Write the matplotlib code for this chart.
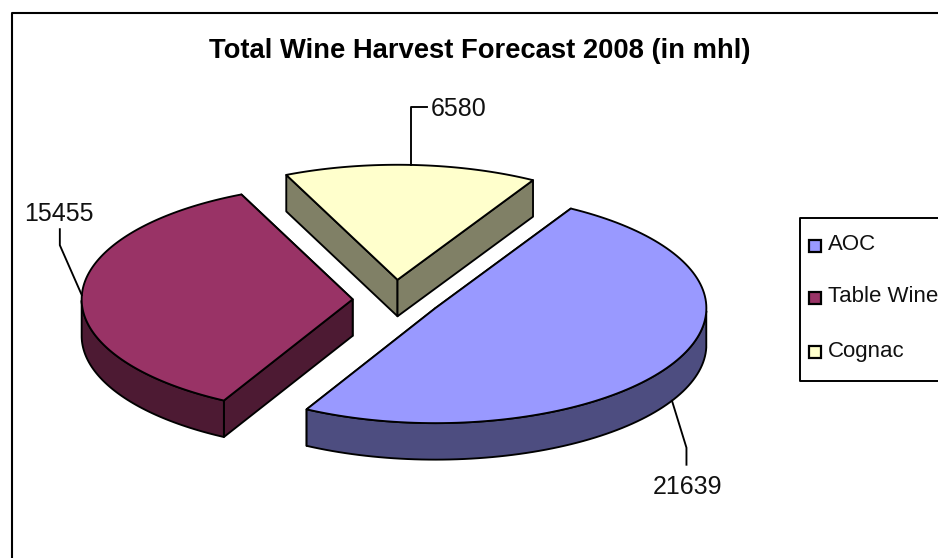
import numpy as np
import matplotlib
matplotlib.use("Agg")
import matplotlib.pyplot as plt
from matplotlib.patches import Polygon, Rectangle

plt.rcParams['font.family'] = ['Liberation Sans', 'DejaVu Sans']

title = "Total Wine Harvest Forecast 2008 (in mhl)"
categories = ["AOC", "Table Wine", "Cognac"]
values = [21639, 15455, 6580]
top_colors = ["#9999FF", "#993366", "#FFFFCC"]
side_colors = ["#4D4D80", "#4D1A33", "#808066"]

# pie layout, in pixels of the picture
cx, cy = 396.8, 299
rx, ry = 271, 115
depth = 36.5
explode = 0.163
start = 60
# small per slice shift, excel does not explode quite evenly
nudge_x = [0, 0, -1.5]
nudge_y = [0, 1, -0.5]

# leader elbow and end relative to where it leaves the slice, and label centre
leaders = [((14.5, 47), (14.5, 64)), ((-22, -50), (-22, -66)), ((0, -58), (16, -58))]
label_pos = [(688, 487.5), (59, 214), (458.5, 109.5)]
leader_depth = [True, False, False]

legend_y = [246, 298, 352]

line_w = 1.35

fig = plt.figure(figsize=(9.38, 5.58), dpi=100)
ax = fig.add_axes([0, 0, 1, 1])
ax.set_xlim(0, 938)
ax.set_ylim(558, 0)
ax.axis("off")


def pt(t, ox, oy):
    return ox + rx * np.cos(t), oy - ry * np.sin(t)


# chart frame, cut by the picture edge
ax.plot([11.5, 11.5, 938], [558, 12.5, 12.5], color="black", lw=1.5)

fracs = np.array(values) / sum(values)
angle = np.radians(start)
for i, frac in enumerate(fracs):
    a0 = angle
    a1 = angle - frac * 2 * np.pi
    angle = a1
    mid = (a0 + a1) / 2
    ox, oy = pt(mid, cx, cy)
    ox = cx + explode * (ox - cx) + nudge_x[i]
    oy = cy + explode * (oy - cy) + nudge_y[i]

    ts = np.linspace(a0, a1, 120)
    ax_, ay_ = pt(ts, ox, oy)

    # radial walls, the one lower in the picture goes last so it covers the other
    ends = sorted([(ay_[0], ax_[0]), (ay_[-1], ax_[-1])])
    for ye, xe in ends:
        wall = [(ox, oy), (xe, ye), (xe, ye + depth), (ox, oy + depth)]
        ax.add_patch(Polygon(wall, closed=True, fc=side_colors[i], ec="black",
                             lw=line_w, joinstyle="round"))

    # rim, only the part that faces the viewer
    front = np.sin(ts) <= 0
    if front.any():
        fx, fy = ax_[front], ay_[front]
        rim = np.column_stack([np.r_[fx, fx[::-1]], np.r_[fy, fy[::-1] + depth]])
        ax.add_patch(Polygon(rim, closed=True, fc=side_colors[i], ec="black",
                             lw=line_w, joinstyle="round"))

    # top face
    face = np.column_stack([np.r_[ox, ax_], np.r_[oy, ay_]])
    ax.add_patch(Polygon(face, closed=True, fc=top_colors[i], ec="black",
                         lw=line_w, joinstyle="round"))

    # leader line and value label
    lx, ly = pt(mid, ox, oy)
    if leader_depth[i]:
        ly += depth
    (dx1, dy1), (dx2, dy2) = leaders[i]
    ax.plot([lx, lx + dx1, lx + dx2], [ly, ly + dy1, ly + dy2], color="black", lw=line_w)
    ax.text(label_pos[i][0], label_pos[i][1], str(values[i]), fontsize=18,
            ha="center", va="center", color="#111111")

ax.text(480, 51, title, fontsize=19.7, fontweight="bold", ha="center", va="center")

# legend box, runs off the right side like the reference
ax.plot([938, 799.5, 799.5, 938], [217.5, 217.5, 380.5, 380.5], color="black", lw=1.4)
for name, color, y in zip(categories, top_colors, legend_y):
    ax.add_patch(Rectangle((809, y - 6), 12, 12, fc=color, ec="black", lw=1.6))
    ax.text(828, y - 1, name, fontsize=16, ha="left", va="center", color="#111111")

fig.savefig("out.png", dpi=100)
